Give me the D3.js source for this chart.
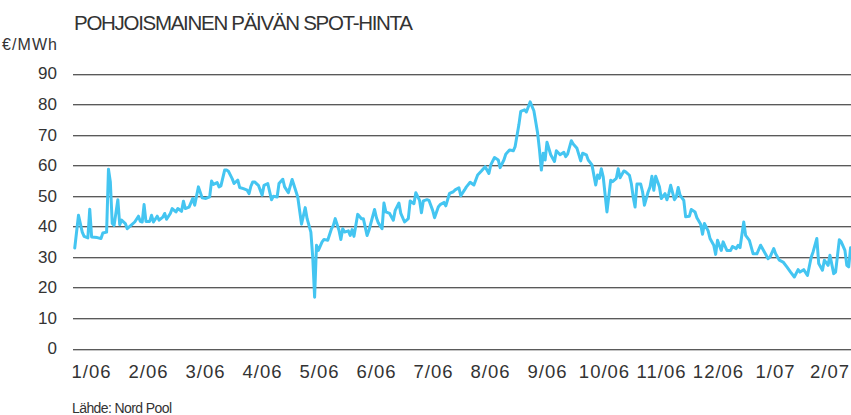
<!DOCTYPE html>
<html>
<head>
<meta charset="utf-8">
<script src="https://cdn.jsdelivr.net/npm/d3@7"></script>
<style>
  body { margin: 0; background: #fff; }
  svg { display: block; font-family: "Liberation Sans Narrow", "Arial Narrow", sans-serif; }
</style>
</head>
<body>
<div id="chart"></div>
<script>
// daily spot price, days counted from the first day shown
var firstDay = new Date(2006, 0, 7);

var dayOffsets = [
  0, 2, 4, 5, 7, 8, 9, 12, 14, 15, 17, 18, 19, 20, 21, 23, 24, 25, 27, 28,
  30, 32, 34, 35, 36, 37, 38, 40, 41, 42, 44, 45, 47, 48, 49, 51, 52, 54, 55, 57,
  58, 59, 61, 63, 64, 66, 68, 70, 72, 73, 74, 76, 77, 78, 80, 81, 82, 84, 85, 87,
  88, 90, 92, 93, 94, 95, 96, 98, 100, 101, 103, 105, 106, 108, 109, 111, 112, 114, 116, 117,
  119, 121, 123, 124, 126, 127, 128, 129, 130, 132, 133, 135, 137, 138, 139, 141, 142, 143, 144, 146,
  147, 148, 149, 151, 153, 154, 156, 157, 160, 161, 162, 164, 165, 166, 168, 170, 171, 173, 174, 176,
  178, 179, 181, 182, 184, 185, 186, 188, 189, 191, 192, 194, 195, 197, 198, 200, 202, 203, 205, 206,
  208, 209, 211, 213, 215, 217, 219, 221, 222, 224, 226, 227, 229, 230, 232, 234, 235, 237, 238, 240,
  241, 243, 245, 247, 248, 249, 250, 251, 252, 254, 256, 257, 259, 261, 262, 263, 265, 266, 268, 270,
  271, 273, 274, 276, 278, 279, 280, 281, 282, 284, 286, 287, 289, 290, 291, 293, 294, 296, 297, 298,
  299, 300, 302, 303, 304, 306, 307, 308, 309, 310, 312, 313, 315, 316, 317, 318, 320, 321, 322, 323,
  325, 326, 328, 329, 331, 332, 334, 335, 336, 338, 339, 341, 342, 343, 345, 346, 348, 350, 351, 353,
  354, 355, 357, 358, 360, 362, 364, 366, 368, 370, 371, 373, 374, 376, 378, 380, 382, 384, 386, 387,
  389, 391, 393, 394, 396, 397, 399, 400, 402, 403, 405, 406, 408, 409, 411, 412, 413, 414
];

var prices = [
  32.9, 43.6, 38.1, 36.7, 36.2, 45.6, 36.5, 36.3, 36.0, 37.8, 38.1, 58.7, 54.5, 40.9, 40.3, 48.7, 40.5, 42.0, 40.9, 39.2,
  40.3, 41.4, 43.3, 41.6, 41.4, 47.1, 41.6, 41.6, 43.6, 41.4, 43.3, 42.0, 43.0, 44.2, 42.3, 44.2, 45.8, 44.7, 45.8, 44.9,
  48.2, 45.8, 46.3, 49.1, 46.9, 52.9, 49.3, 49.1, 49.6, 54.8, 53.7, 54.3, 52.9, 53.2, 58.4, 58.4, 58.0, 55.6, 54.0, 55.1,
  52.7, 52.3, 51.8, 50.7, 53.1, 54.5, 54.5, 53.4, 50.2, 53.4, 54.0, 48.7, 49.8, 49.6, 54.0, 55.4, 52.9, 51.0, 55.3, 53.4,
  49.6, 40.7, 46.1, 42.5, 38.1, 29.9, 16.8, 33.8, 32.1, 34.9, 35.7, 35.4, 39.2, 40.3, 42.5, 38.7, 35.7, 39.2, 38.1, 38.5,
  37.0, 38.9, 36.7, 43.9, 42.5, 42.5, 37.0, 38.7, 45.5, 42.8, 41.1, 39.2, 47.6, 44.7, 44.2, 42.0, 45.2, 47.6, 44.2, 41.4,
  42.5, 48.3, 47.4, 51.0, 48.5, 44.4, 48.3, 48.7, 48.5, 45.2, 42.8, 46.3, 47.1, 47.8, 46.7, 50.8, 51.3, 51.9, 52.6, 50.0,
  51.9, 52.9, 54.4, 53.5, 56.8, 58.1, 59.5, 57.3, 60.1, 62.5, 61.7, 59.2, 61.7, 63.6, 65.0, 64.7, 66.1, 73.2, 77.6, 78.1,
  77.4, 80.7, 77.8, 70.5, 65.0, 58.4, 63.9, 61.7, 67.5, 63.4, 61.2, 64.7, 63.4, 64.2, 62.8, 63.6, 68.0, 66.9, 65.5, 61.4,
  63.9, 63.4, 61.7, 60.1, 53.5, 56.8, 55.7, 58.8, 56.2, 44.7, 55.1, 54.6, 55.7, 58.8, 55.9, 58.1, 57.8, 56.7, 54.0, 49.6,
  46.3, 53.8, 53.8, 51.3, 46.9, 51.3, 52.9, 56.4, 51.8, 56.4, 52.9, 49.1, 50.7, 48.7, 50.7, 53.4, 48.7, 49.6, 52.7, 50.2,
  48.5, 43.1, 43.3, 45.5, 44.7, 42.8, 40.7, 37.4, 40.9, 38.5, 36.0, 33.8, 30.8, 35.4, 32.1, 34.9, 32.1, 32.1, 33.4, 32.7,
  33.8, 33.0, 41.4, 37.0, 35.4, 31.0, 31.0, 33.8, 31.6, 29.4, 29.9, 32.7, 31.0, 28.9, 28.3, 26.7, 25.0, 23.4, 25.8, 25.0,
  25.8, 23.9, 29.9, 31.6, 36.0, 27.8, 25.6, 28.9, 27.2, 30.5, 24.5, 25.0, 35.6, 34.9, 32.1, 27.2, 26.7, 33.0
];

var monthLabels = ["1/06", "2/06", "3/06", "4/06", "5/06", "6/06", "7/06",
                   "8/06", "9/06", "10/06", "11/06", "12/06", "1/07", "2/07"];
var yTicks = [0, 10, 20, 30, 40, 50, 60, 70, 80, 90];

var svgWidth = 851;
var svgHeight = 415;
var plotLeft = 73, plotRight = 851, plotTop = 73.5, plotBottom = 348.5;
var lineColor = "#44c5f1";
var textColor = "#333333";

var svg = d3.select("#chart")
  .append("svg")
  .attr("width", svgWidth)
  .attr("height", svgHeight);

var data = dayOffsets.map(function(d, i) {
  return { date: d3.timeDay.offset(firstDay, d), value: prices[i] };
});

// time scale for the line, band scale for the evenly spaced month labels
var xTime = d3.scaleTime()
  .domain([new Date(2006, 0, 1), new Date(2007, 0, 1)])
  .range([63.5, 747.5]);

var xMonth = d3.scaleBand()
  .domain(monthLabels)
  .range([63.5, 63.5 + 57 * monthLabels.length]);

var yScale = d3.scaleLinear()
  .domain([0, 90])
  .range([plotBottom, plotTop]);

// grid + y labels
var yAxis = svg.append("g")
  .attr("transform", `translate(${plotLeft}, 0)`)
  .call(d3.axisLeft(yScale)
    .tickValues(yTicks)
    .tickSize(-(plotRight - plotLeft))
    .tickPadding(16));

yAxis.select(".domain").remove();
yAxis.selectAll(".tick line")
  .attr("stroke", "#5a5a5a")
  .attr("stroke-width", 1)
  .attr("shape-rendering", "crispEdges");
yAxis.selectAll(".tick")
  .append("line")
  .attr("x2", plotRight - plotLeft)
  .attr("y1", 1)
  .attr("y2", 1)
  .attr("stroke", "#c4c4c4")
  .attr("shape-rendering", "crispEdges");
yAxis.selectAll(".tick text")
  .attr("fill", textColor)
  .style("font-size", "17px")
  .style("font-family", "'Liberation Sans Narrow', 'Arial Narrow', sans-serif");

// month labels
var xAxis = svg.append("g")
  .attr("transform", `translate(0, ${plotBottom})`)
  .call(d3.axisBottom(xMonth).tickSize(0).tickPadding(16));

xAxis.select(".domain").remove();
xAxis.selectAll(".tick text")
  .attr("fill", textColor)
  .attr("dx", function(d, i) { return i === monthLabels.length - 1 ? "-3px" : "-0.5px"; })
  .style("font-size", "18.5px")
  .style("letter-spacing", "1px")
  .style("font-family", "'Liberation Sans Narrow', 'Arial Narrow', sans-serif");

// price line
var line = d3.line()
  .x(function(d) { return xTime(d.date); })
  .y(function(d) { return yScale(d.value); });

svg.append("path")
  .datum(data)
  .attr("fill", "none")
  .attr("stroke", lineColor)
  .attr("stroke-width", 3)
  .attr("stroke-linejoin", "round")
  .attr("stroke-linecap", "round")
  .attr("d", line);

// title, unit and source
svg.append("text")
  .attr("x", 74)
  .attr("y", 30)
  .attr("fill", textColor)
  .attr("textLength", 339)
  .attr("lengthAdjust", "spacing")
  .style("font-size", "20.5px")
  .text("POHJOISMAINEN PÄIVÄN SPOT-HINTA");

svg.append("text")
  .attr("x", 2)
  .attr("y", 50)
  .attr("fill", textColor)
  .attr("textLength", 55)
  .attr("lengthAdjust", "spacing")
  .style("font-size", "16px")
  .text("€/MWh");

svg.append("text")
  .attr("x", 72)
  .attr("y", 413)
  .attr("fill", textColor)
  .attr("textLength", 100)
  .attr("lengthAdjust", "spacing")
  .style("font-size", "14px")
  .text("Lähde: Nord Pool");
</script>
</body>
</html>
